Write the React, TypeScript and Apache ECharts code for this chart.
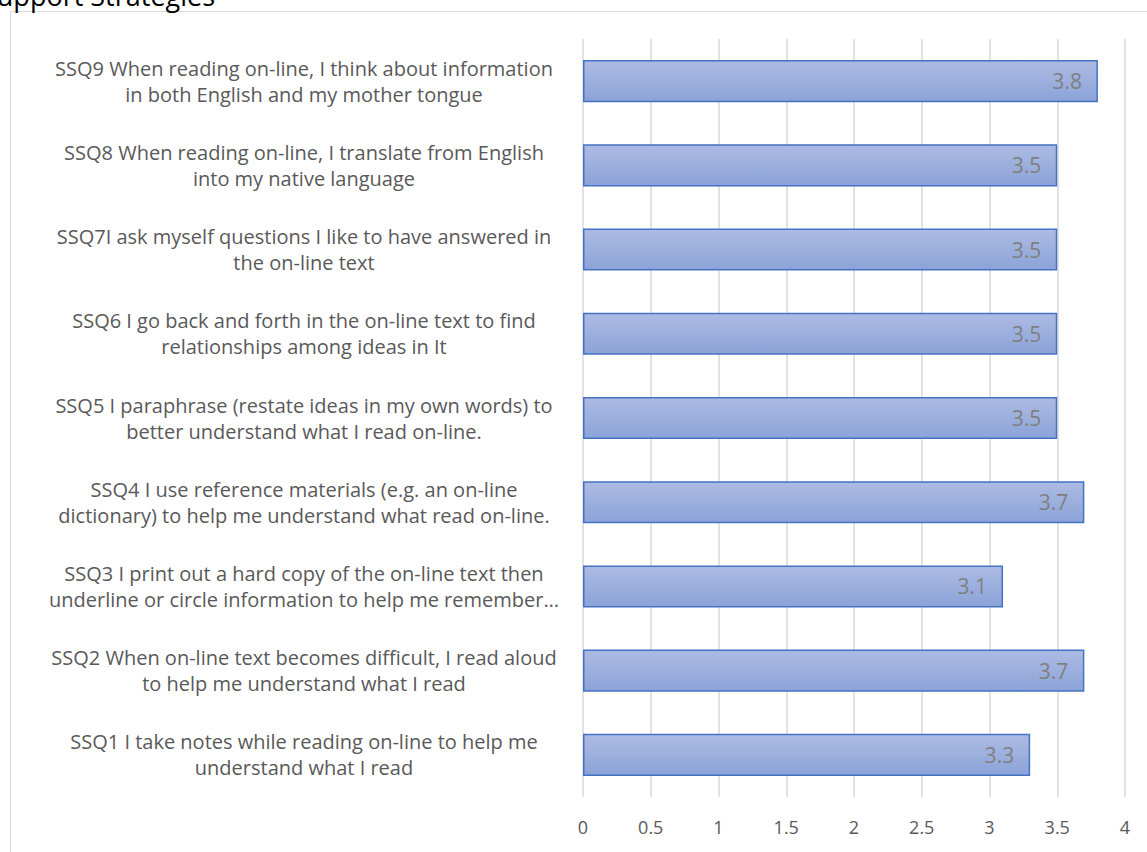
import React, { useEffect, useRef } from "react";
import * as echarts from "echarts";

const categories: string[] = [
  "SSQ1 I take notes while reading on-line to help me\nunderstand what I read",
  "SSQ2 When on-line text becomes difficult, I read aloud\nto help me understand what I read",
  "SSQ3 I print out a hard copy of the on-line text then\nunderline or circle information to help me remember…",
  "SSQ4 I use reference materials (e.g. an on-line\ndictionary) to help me understand what read on-line.",
  "SSQ5 I paraphrase (restate ideas in my own words) to\nbetter understand what I read on-line.",
  "SSQ6 I go back and forth in the on-line text to find\nrelationships among ideas in It",
  "SSQ7I ask myself questions I like to have answered in\nthe on-line text",
  "SSQ8 When reading on-line, I translate from English\ninto my native language",
  "SSQ9 When reading on-line, I think about information\nin both English and my mother tongue",
];
const values: number[] = [3.3, 3.7, 3.1, 3.7, 3.5, 3.5, 3.5, 3.5, 3.8];
const titleText = "Support Strategies";

const FONT = "'Open Sans', sans-serif";

export default function App() {
  const ref = useRef<HTMLDivElement>(null);
  useEffect(() => {
    if (!ref.current) return;
    const chart = echarts.init(ref.current, undefined, { renderer: "svg" });
    chart.setOption({
      animation: false,
      backgroundColor: "#ffffff",
      graphic: [
        {
          type: "rect",
          shape: { x: 10.5, y: 11.5, width: 1160, height: 860 },
          style: { fill: "none", stroke: "#d9d9d9", lineWidth: 1 },
          silent: true,
        },
        {
          type: "text",
          x: -18,
          y: -5,
          style: {
            text: titleText,
            fill: "#000000",
            font: `27px ${FONT}`,
            verticalAlign: "middle",
            align: "left",
          },
          silent: true,
        },
      ],
      grid: { left: 583, right: 22, top: 39, bottom: 55, containLabel: false },
      xAxis: {
        type: "value",
        min: 0,
        max: 4,
        interval: 0.5,
        axisLine: { show: false },
        axisTick: { show: false },
        splitLine: { show: true, lineStyle: { color: "#d9d9d9", width: 1.5 } },
        axisLabel: { color: "#595959", fontSize: 18, fontFamily: FONT, margin: 21 },
      },
      yAxis: {
        type: "category",
        data: categories,
        axisLine: { show: false },
        axisTick: { show: false },
        axisLabel: {
          color: "#595959",
          fontSize: 20,
          fontFamily: FONT,
          align: "center",
          margin: 279,
          lineHeight: 26,
        },
      },
      series: [
        {
          type: "bar",
          data: values,
          barWidth: "50%",
          itemStyle: {
            color: new echarts.graphic.LinearGradient(0, 0, 0, 1, [
              { offset: 0, color: "#adbbe3" },
              { offset: 1, color: "#8ba3d8" },
            ]),
            borderColor: "#4472c4",
            borderWidth: 1.5,
          },
          label: {
            show: true,
            position: "insideRight",
            distance: 16,
            color: "#7f7f7f",
            fontSize: 21,
            fontFamily: FONT,
            formatter: (p: any) => p.value.toFixed(1),
          },
        },
      ],
    });
    return () => chart.dispose();
  }, []);
  return (
    <div
      ref={ref}
      style={{ position: "absolute", left: 0, top: 0, width: 1147, height: 852 }}
    />
  );
}
